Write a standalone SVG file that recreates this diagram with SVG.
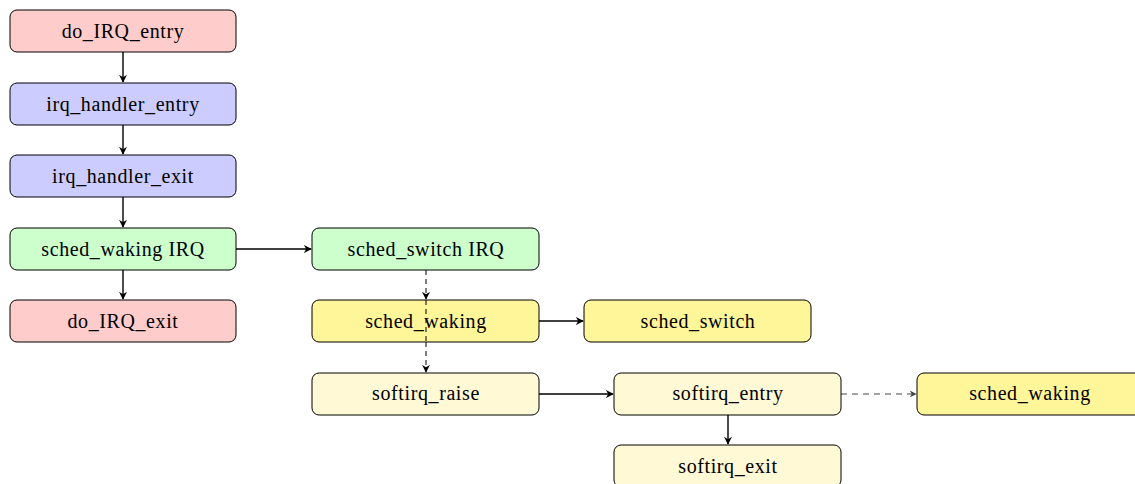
<svg xmlns="http://www.w3.org/2000/svg" width="1135" height="484" viewBox="0 0 1135 484">
  <defs>
    <marker id="tip" viewBox="0 0 10 10" refX="9" refY="5" markerWidth="8" markerHeight="8" markerUnits="userSpaceOnUse" orient="auto">
      <path d="M0,0 L10,5 L0,10 L3,5 Z" fill="#000"/>
    </marker>
    <marker id="tipGrey" viewBox="0 0 10 10" refX="9" refY="5" markerWidth="7" markerHeight="7" markerUnits="userSpaceOnUse" orient="auto">
      <path d="M0,0 L10,5 L0,10 L3,5 Z" fill="#444"/>
    </marker>
  </defs>
  <style>
    .box { stroke: #000; stroke-width: 1; }
    .red { fill: #FFCCCC; }
    .blue { fill: #CCCCFF; }
    .green { fill: #CCFFCC; }
    .yellow { fill: #FFF599; }
    .pale { fill: #FFF9D6; }
    .label { font-family: "Liberation Serif", "DejaVu Serif", serif; font-size: 20px; letter-spacing: 0.6px; fill: #000; text-anchor: middle; dominant-baseline: central; }
    .solid { stroke: #000; stroke-width: 1.4; fill: none; marker-end: url(#tip); }
    .dash { stroke: #000; stroke-width: 1; stroke-dasharray: 5 4; fill: none; marker-end: url(#tip); }
    .dashGrey { stroke: #444; stroke-width: 1; stroke-dasharray: 6 5; fill: none; marker-end: url(#tipGrey); }
  </style>
  <rect width="1135" height="484" fill="#fff"/>

  <!-- arrows between the event boxes -->
  <g id="connectors">
    <line class="solid" x1="123" y1="52" x2="123" y2="82"/>
    <line class="solid" x1="123" y1="125" x2="123" y2="154"/>
    <line class="solid" x1="123" y1="197" x2="123" y2="227"/>
    <line class="solid" x1="123" y1="270" x2="123" y2="299"/>
    <line class="solid" x1="236" y1="249" x2="311" y2="249"/>
    <line class="solid" x1="539" y1="321" x2="583" y2="321"/>
    <line class="solid" x1="539" y1="394" x2="613" y2="394"/>
    <line class="solid" x1="728" y1="415" x2="728" y2="444"/>
    <line class="dashGrey" x1="841" y1="394" x2="916" y2="394"/>
    <line class="dash" x1="426" y1="270" x2="426" y2="299"/>
  </g>

  <g id="do_IRQ_entry">
    <rect class="box red" x="10" y="10" width="226" height="42" rx="7"/>
    <text class="label" x="123" y="31">do_IRQ_entry</text>
  </g>
  <g id="irq_handler_entry">
    <rect class="box blue" x="10" y="83" width="226" height="42" rx="7"/>
    <text class="label" x="123" y="104">irq_handler_entry</text>
  </g>
  <g id="irq_handler_exit">
    <rect class="box blue" x="10" y="155" width="226" height="42" rx="7"/>
    <text class="label" x="123" y="176">irq_handler_exit</text>
  </g>
  <g id="sched_waking_irq">
    <rect class="box green" x="10" y="228" width="226" height="42" rx="7"/>
    <text class="label" x="123" y="249">sched_waking IRQ</text>
  </g>
  <g id="do_IRQ_exit">
    <rect class="box red" x="10" y="300" width="226" height="42" rx="7"/>
    <text class="label" x="123" y="321">do_IRQ_exit</text>
  </g>
  <g id="sched_switch_irq">
    <rect class="box green" x="312" y="228" width="227" height="42" rx="7"/>
    <text class="label" x="426" y="249">sched_switch IRQ</text>
  </g>
  <g id="sched_waking">
    <rect class="box yellow" x="312" y="300" width="227" height="42" rx="7"/>
    <text class="label" x="426" y="321">sched_waking</text>
  </g>
  <g id="sched_switch">
    <rect class="box yellow" x="584" y="300" width="227" height="42" rx="7"/>
    <text class="label" x="698" y="321">sched_switch</text>
  </g>
  <g id="softirq_raise">
    <rect class="box pale" x="312" y="373" width="227" height="42" rx="7"/>
    <text class="label" x="426" y="393">softirq_raise</text>
  </g>
  <g id="softirq_entry">
    <rect class="box pale" x="614" y="373" width="227" height="42" rx="7"/>
    <text class="label" x="728" y="393">softirq_entry</text>
  </g>
  <g id="softirq_exit">
    <rect class="box pale" x="614" y="445" width="227" height="42" rx="7"/>
    <text class="label" x="728" y="466">softirq_exit</text>
  </g>
  <g id="sched_waking_softirq">
    <rect class="box yellow" x="917" y="373" width="227" height="42" rx="7"/>
    <text class="label" x="1030" y="393">sched_waking</text>
  </g>

  <!-- dashed link from sched_switch IRQ to softirq_raise, drawn over sched_waking -->
  <g id="connectors-overlay">
    <line class="dash" x1="426" y1="342" x2="426" y2="372"/>
    <line stroke="#000" stroke-width="1" stroke-dasharray="5 4" x1="426" y1="300" x2="426" y2="342"/>
  </g>
</svg>
